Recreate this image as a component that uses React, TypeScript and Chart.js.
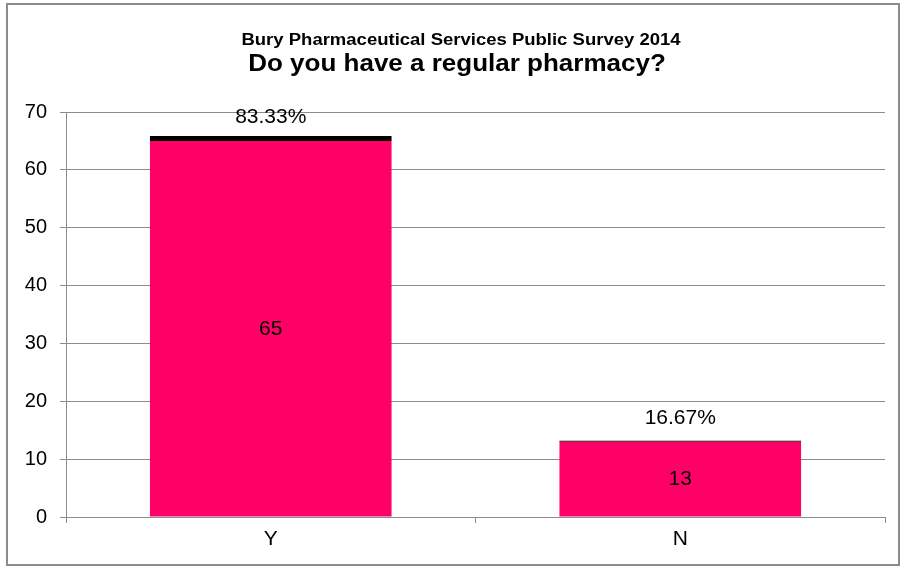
import React, { useEffect, useRef } from "react";
import { Chart, registerables } from "chart.js";

Chart.register(...registerables);

const categories = ["Y", "N"];
const counts = [65, 13];
const percentages = [83.33, 16.67];
const yTicks = [0, 10, 20, 30, 40, 50, 60, 70];
const titleLine1 = "Bury Pharmaceutical Services Public Survey 2014";
const titleLine2 = "Do you have a regular pharmacy?";

const FONT = "'Liberation Sans', Arial, sans-serif";

function drawStretched(ctx: any, text: string, font: string, x: number, y: number, sx: number) {
  ctx.save();
  ctx.font = font;
  ctx.translate(x, y);
  ctx.scale(sx, 1);
  ctx.fillText(text, 0, 0);
  ctx.restore();
}

const overlayPlugin = {
  id: "overlay",
  beforeDraw(chart: any) {
    const ctx = chart.ctx;
    ctx.save();
    ctx.fillStyle = "#ffffff";
    ctx.fillRect(0, 0, chart.width, chart.height);
    ctx.strokeStyle = "#8c8c8c";
    ctx.lineWidth = 2;
    ctx.strokeRect(7, 4, 892, 561);
    ctx.restore();
  },
  afterDraw(chart: any) {
    const ctx = chart.ctx;
    ctx.save();
    ctx.fillStyle = "#000";
    ctx.textAlign = "center";
    ctx.textBaseline = "middle";
    drawStretched(ctx, titleLine1, `bold 16px ${FONT}`, 461, 41, 18.5 / 16);
    drawStretched(ctx, titleLine2, `bold 23px ${FONT}`, 457, 65, 26 / 23);

    const metaCount = chart.getDatasetMeta(0);
    ctx.font = `21px ${FONT}`;
    metaCount.data.forEach((bar: any, i: number) => {
      const props = bar.getProps(["x", "y", "base"], true);
      ctx.fillText(String(counts[i]), props.x, (props.y + props.base) / 2);
      ctx.fillText(percentages[i].toFixed(2) + "%", props.x, props.y - 24);
    });
    ctx.restore();
  },
};

export default function App() {
  const ref = useRef<HTMLCanvasElement>(null);
  useEffect(() => {
    if (!ref.current) return;
    const chart = new Chart(ref.current, {
      type: "bar",
      data: {
        labels: categories,
        datasets: [
          {
            label: "Count",
            data: counts,
            backgroundColor: "#ff0066",
            stack: "s",
            categoryPercentage: 1,
            barPercentage: 0.59,
          },
          {
            label: "Percent",
            data: percentages.map((p) => p / 100),
            backgroundColor: "#000000",
            stack: "s",
            categoryPercentage: 1,
            barPercentage: 0.59,
          },
        ],
      },
      options: {
        responsive: false,
        animation: false,
        layout: { padding: { top: 112, right: 19, left: 0, bottom: 0 } },
        plugins: {
          legend: { display: false },
          title: { display: false },
          tooltip: { enabled: false },
        },
        scales: {
          x: {
            stacked: true,
            offset: true,
            grid: {
              display: true,
              offset: true,
              drawOnChartArea: false,
              drawTicks: true,
              tickLength: 6,
              color: "#8c8c8c",
            },
            border: { color: "#8c8c8c", width: 1 },
            ticks: {
              color: "#000",
              font: { family: FONT, size: 21 },
              padding: 4,
            },
            afterFit(scale: any) {
              scale.height = 51;
            },
          },
          y: {
            stacked: true,
            min: 0,
            max: 70,
            afterBuildTicks(scale: any) {
              scale.ticks = yTicks.map((v) => ({ value: v }));
            },
            grid: {
              color: "#8c8c8c",
              tickLength: 6,
              drawTicks: true,
            },
            border: { color: "#8c8c8c", width: 1 },
            ticks: {
              color: "#000",
              font: { family: FONT, size: 20 },
              padding: 13,
            },
            afterFit(scale: any) {
              scale.width = 66;
            },
          },
        },
      },
      plugins: [overlayPlugin],
    });
    return () => chart.destroy();
  }, []);
  return (
    <div style={{ position: "absolute", left: 0, top: 0, width: 904, height: 568 }}>
      <canvas ref={ref} width={904} height={568} style={{ width: 904, height: 568 }} />
    </div>
  );
}
